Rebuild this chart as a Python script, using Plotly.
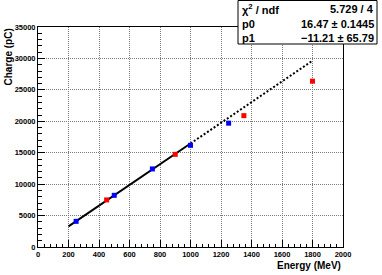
import plotly.graph_objects as go

# Data
blue_energy = [250, 500, 750, 1000, 1250]
blue_charge = [4080, 8220, 12420, 16180, 19700]
red_energy = [450, 900, 1350, 1800]
red_charge = [7490, 14740, 20900, 26380]

# Fit parameters (pol1: p1 + p0*x)
p0 = 16.47
p1 = -11.21
fit_solid_x = [200, 1000]
fit_dot_x = [1000, 1800]
stat_labels = ["χ<sup>2</sup> / ndf", "p0", "p1"]
stat_values = ["5.729 / 4", "16.47 ± 0.1445", "−11.21 ± 65.79"]

FONT = "Liberation Sans, Arial, Helvetica, sans-serif"

fig = go.Figure()
fig.add_trace(go.Scatter(
    x=fit_solid_x, y=[p0 * x + p1 for x in fit_solid_x], mode="lines",
    line=dict(color="black", width=2), showlegend=False))
fig.add_trace(go.Scatter(
    x=fit_dot_x, y=[p0 * x + p1 for x in fit_dot_x], mode="lines",
    line=dict(color="black", width=2, dash="2px,2px"), showlegend=False))
fig.add_trace(go.Scatter(
    x=blue_energy, y=blue_charge, mode="markers",
    marker=dict(symbol="square", size=5, color="#0000ff"), showlegend=False))
fig.add_trace(go.Scatter(
    x=red_energy, y=red_charge, mode="markers",
    marker=dict(symbol="square", size=5, color="#ff0000"), showlegend=False))

axis_common = dict(
    showline=True, linecolor="black", linewidth=1, mirror=True,
    ticks="inside", ticklen=7, tickcolor="black", tickwidth=1,
    showgrid=True, gridcolor="#7a7a7a", griddash="1px,1px", gridwidth=1,
    zeroline=False, tickformat="d",
    tickfont=dict(family=FONT, size=7.5, color="black", weight="bold"),
)
fig.update_xaxes(range=[0, 2000], dtick=200, tick0=0,
                 minor=dict(dtick=40, ticks="inside", ticklen=3.5, tickcolor="black", showgrid=False),
                 **axis_common)
fig.update_yaxes(range=[0, 35000], dtick=5000, tick0=0,
                 minor=dict(dtick=1000, ticks="inside", ticklen=3.5, tickcolor="black", showgrid=False),
                 **axis_common)

W, H = 382, 275
ml, mr, mt, mb = 38, 39, 27, 28
pw, ph = W - ml - mr, H - mt - mb

def px(xp):
    return (xp - ml) / pw

def py(yp):
    return (H - mb - yp) / ph

annotations = [
    dict(text="Energy (MeV)", x=1, y=py(265), xref="paper", yref="paper",
         xanchor="right", yanchor="middle", showarrow=False,
         font=dict(family=FONT, size=10, color="black", weight="bold")),
    dict(text="Charge (pC)", x=px(8), y=1, xref="paper", yref="paper",
         xanchor="center", yanchor="top", textangle=-90, showarrow=False,
         font=dict(family=FONT, size=10, color="black", weight="bold")),
]

shapes = [dict(type="rect", xref="paper", yref="paper",
               x0=px(238), x1=px(377), y0=py(44), y1=py(0.5),
               line=dict(color="black", width=1), fillcolor="white", layer="above")]

rows_y = [9.5, 24, 38.5]
for lab, val, ry in zip(stat_labels, stat_values, rows_y):
    annotations.append(dict(text=lab, x=px(240), y=py(ry), xref="paper", yref="paper",
                            xanchor="left", yanchor="middle", showarrow=False,
                            font=dict(family=FONT, size=11, color="black", weight="bold")))
    annotations.append(dict(text=val, x=px(376), y=py(ry), xref="paper", yref="paper",
                            xanchor="right", yanchor="middle", showarrow=False,
                            font=dict(family=FONT, size=11, color="black", weight="bold")))

fig.update_layout(
    width=W, height=H,
    margin=dict(l=ml, r=mr, t=mt, b=mb, autoexpand=False),
    paper_bgcolor="white", plot_bgcolor="white",
    shapes=shapes, annotations=annotations,
    showlegend=False,
)
fig.write_html("out.html", config={"displayModeBar": False},
               post_script="document.body.style.margin='0';")
